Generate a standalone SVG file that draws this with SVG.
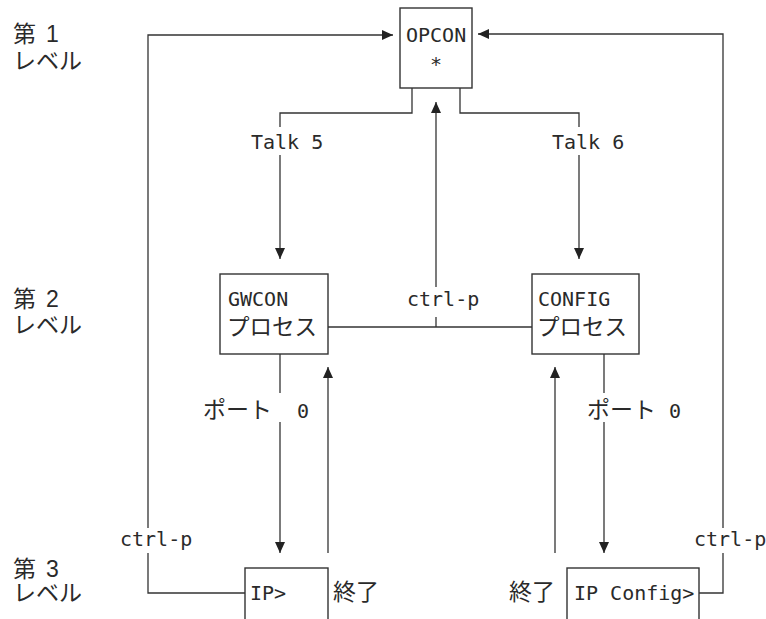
<svg xmlns="http://www.w3.org/2000/svg" width="766" height="619" viewBox="0 0 766 619">
  <style>
    .box { fill: #ffffff; stroke: #333333; stroke-width: 1.4; }
    .ln { fill: none; stroke: #333333; stroke-width: 1.3; }
    .mono { font-family: "DejaVu Sans Mono", "Liberation Mono", monospace; font-size: 20px; fill: #2a2a2a; }
    .jp { font-family: "Noto Sans CJK JP", sans-serif; font-size: 23px; fill: #2a2a2a; }
    .jpb { font-family: "Noto Sans CJK JP", sans-serif; font-size: 22.5px; fill: #2a2a2a; }
    .lvl { font-family: "Liberation Sans", "Noto Sans CJK JP", sans-serif; font-size: 23px; fill: #2a2a2a; }
  </style>
  <defs>
    <marker id="arr" markerUnits="userSpaceOnUse" markerWidth="11" markerHeight="10" refX="11" refY="5" orient="auto">
      <path d="M0,0 L11,5 L0,10 Z" fill="#222222"/>
    </marker>
  </defs>
  <rect width="766" height="619" fill="#ffffff"/>

  <g id="levels">
    <text class="lvl" x="13" y="42">第<tspan x="46">1</tspan></text>
    <text class="lvl" x="13" y="69">レベル</text>
    <text class="lvl" x="13" y="307">第<tspan x="46">2</tspan></text>
    <text class="lvl" x="13" y="333">レベル</text>
    <text class="lvl" x="13" y="577">第<tspan x="46">3</tspan></text>
    <text class="lvl" x="13" y="601">レベル</text>
  </g>

  <g id="connectors">
    <!-- OPCON to GWCON: Talk 5 -->
    <path class="ln" d="M412,88 V113 H280 V127"/>
    <path class="ln" d="M280,155 V259" marker-end="url(#arr)"/>
    <text class="mono" x="251" y="149">Talk 5</text>
    <!-- OPCON to CONFIG: Talk 6 -->
    <path class="ln" d="M460,88 V113 H579 V127"/>
    <path class="ln" d="M579,155 V259" marker-end="url(#arr)"/>
    <text class="mono" x="552" y="149">Talk 6</text>
    <!-- GWCON/CONFIG ctrl-p to OPCON -->
    <path class="ln" d="M328,327 H532"/>
    <path class="ln" d="M436,327 V317"/>
    <path class="ln" d="M436,287 V102" marker-end="url(#arr)"/>
    <text class="mono" x="407" y="306">ctrl-p</text>
    <!-- GWCON to IP> : port 0 -->
    <path class="ln" d="M280,354 V393"/>
    <path class="ln" d="M280,422 V553" marker-end="url(#arr)"/>
    <text x="203" y="418"><tspan class="jp">ポート</tspan><tspan class="mono" x="297">0</tspan></text>
    <!-- IP> end to GWCON -->
    <path class="ln" d="M328,553 V367" marker-end="url(#arr)"/>
    <text class="jp" x="333" y="600">終了</text>
    <!-- CONFIG to IP Config> : port 0 -->
    <path class="ln" d="M604,354 V393"/>
    <path class="ln" d="M604,422 V553" marker-end="url(#arr)"/>
    <text x="587" y="418"><tspan class="jp">ポート</tspan><tspan class="mono" x="669">0</tspan></text>
    <!-- IP Config> end to CONFIG -->
    <path class="ln" d="M555,553 V367" marker-end="url(#arr)"/>
    <text class="jp" x="509" y="600">終了</text>
    <!-- IP> ctrl-p to OPCON -->
    <path class="ln" d="M245,593 H148 V553"/>
    <path class="ln" d="M148,528 V35 H393" marker-end="url(#arr)"/>
    <text class="mono" x="120" y="546">ctrl-p</text>
    <!-- IP Config> ctrl-p to OPCON -->
    <path class="ln" d="M699,593 H723 V553"/>
    <path class="ln" d="M723,528 V34 H478" marker-end="url(#arr)"/>
    <text class="mono" x="694" y="546">ctrl-p</text>
  </g>

  <g id="opcon">
    <rect class="box" x="400" y="8" width="72" height="80"/>
    <text class="mono" x="406" y="42">OPCON</text>
    <text class="mono" x="436" y="71" text-anchor="middle">*</text>
  </g>

  <g id="gwcon">
    <rect class="box" x="220" y="274" width="108" height="80"/>
    <text class="mono" x="228" y="306">GWCON</text>
    <text class="jpb" x="227" y="335">プロセス</text>
  </g>

  <g id="config">
    <rect class="box" x="532" y="274" width="107" height="80"/>
    <text class="mono" x="538" y="306">CONFIG</text>
    <text class="jpb" x="537" y="335">プロセス</text>
  </g>

  <g id="ip">
    <rect class="box" x="245" y="568" width="83" height="70"/>
    <text class="mono" x="250" y="600">IP&gt;</text>
  </g>

  <g id="ipconfig">
    <rect class="box" x="567" y="568" width="132" height="70"/>
    <text class="mono" x="574" y="600">IP Config&gt;</text>
  </g>
</svg>
